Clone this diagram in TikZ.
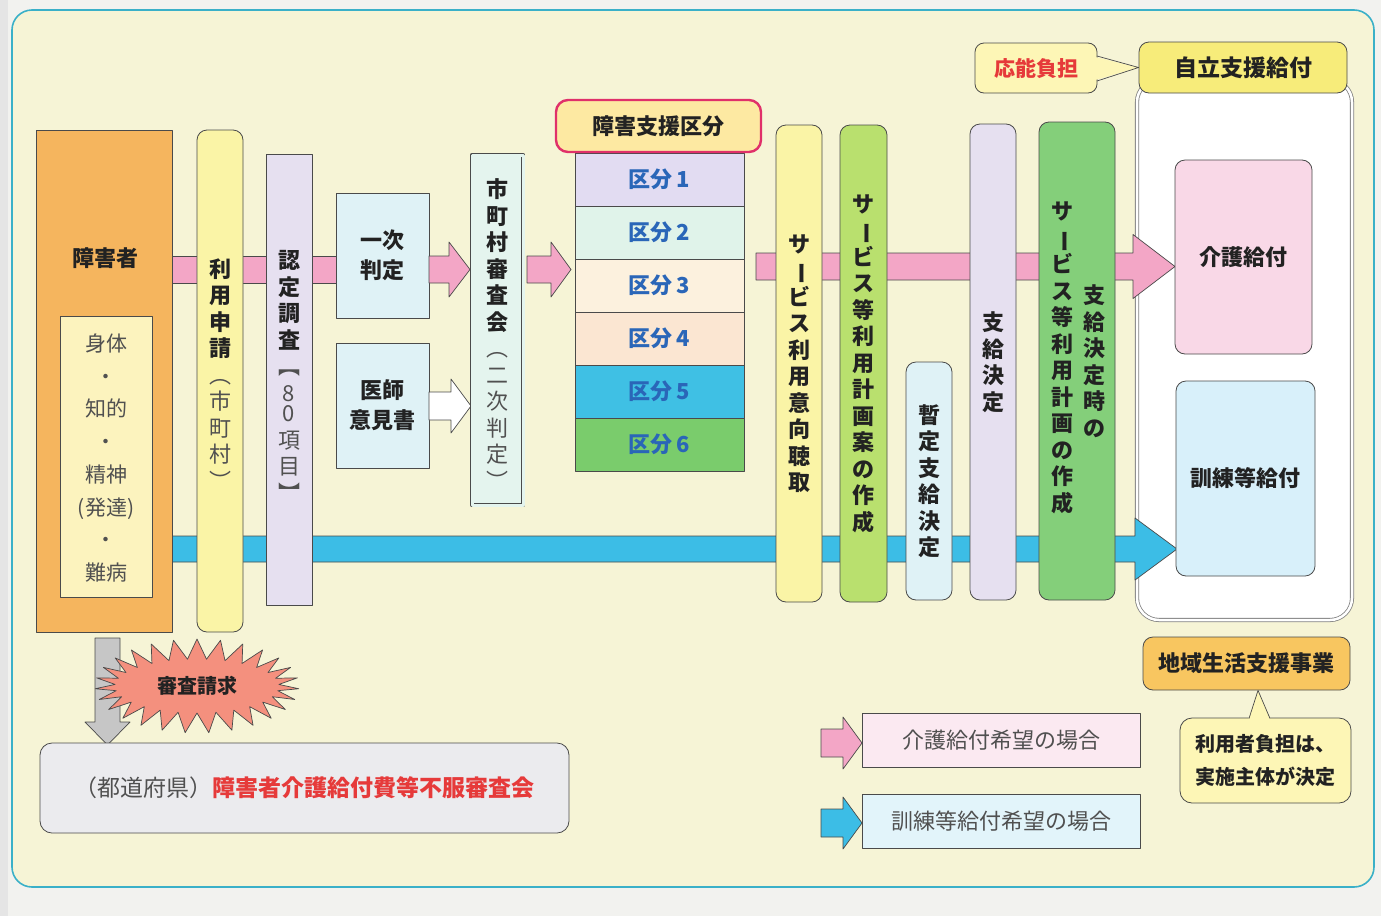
\documentclass[tikz,border=0pt]{standalone}
\usepackage{fontspec}
\setmainfont{Noto Sans CJK JP}
\usetikzlibrary{shapes.symbols}
\definecolor{pagebg}{HTML}{F2F2EF}
\definecolor{panel}{HTML}{F6F4D6}
\definecolor{panelB}{HTML}{3AB0C8}
\definecolor{lineC}{HTML}{4A4A4A}
\definecolor{orangeB}{HTML}{F5B55E}
\definecolor{creamB}{HTML}{FCF3BE}
\definecolor{yellowB}{HTML}{FAF4A6}
\definecolor{lavB}{HTML}{E6E0F0}
\definecolor{iceB}{HTML}{DFF2F6}
\definecolor{mintB}{HTML}{E4F4EE}
\definecolor{pinkA}{HTML}{F3A6C6}
\definecolor{cyanA}{HTML}{3CBDE6}
\definecolor{redB}{HTML}{E0306A}
\definecolor{hdrB}{HTML}{FDE9A2}
\definecolor{kA}{HTML}{E2DCF2}
\definecolor{kB}{HTML}{E0F3EA}
\definecolor{kC}{HTML}{FCF1DE}
\definecolor{kD}{HTML}{FBE6D2}
\definecolor{kE}{HTML}{3FC0E4}
\definecolor{kF}{HTML}{7ACC6C}
\definecolor{kT}{HTML}{2A66B8}
\definecolor{limeB}{HTML}{B9E06E}
\definecolor{greenB}{HTML}{84CF7A}
\definecolor{jhdr}{HTML}{F7EC7A}
\definecolor{kaigoB}{HTML}{F9D8E7}
\definecolor{kunrenB}{HTML}{D8F0FA}
\definecolor{chiikiB}{HTML}{F8C660}
\definecolor{calloutB}{HTML}{FDF6B6}
\definecolor{legP}{HTML}{FBE9F1}
\definecolor{legC}{HTML}{E2F4FA}
\definecolor{starB}{HTML}{F4907E}
\definecolor{grayA}{HTML}{C6C6C6}
\definecolor{fufukuB}{HTML}{EBEBEE}
\definecolor{redT}{HTML}{E63A3A}
\definecolor{txt}{HTML}{222222}
\definecolor{gtxt}{HTML}{505050}
\newcommand\vbar{\rotatebox[origin=c]{-90}{ー}}
\newcommand\gx[1]{{\mdseries\color{gtxt}#1}}
\newcommand\barrow[7]{\filldraw[arr, fill=#7] (#1,{#4-#5}) -- (#2,{#4-#5}) -- (#2,{#4-#6}) -- (#3,#4) -- (#2,{#4+#6}) -- (#2,{#4+#5}) -- (#1,{#4+#5}) -- cycle;}
\begin{document}
\begin{tikzpicture}[x=1pt,y=-1pt, line join=round,
 bx/.style={draw=lineC, line width=0.8pt, inner sep=0pt},
 vt/.style={align=center, inner sep=0pt, font=\fontsize{22}{26.5}\selectfont\bfseries, text=txt},
 lbl/.style={inner sep=0pt, align=center, font=\fontsize{22}{28}\selectfont\bfseries, text=txt},
 arr/.style={draw=lineC, line width=0.7pt}]
\useasboundingbox (0,0) rectangle (1381,916);
\fill[pagebg] (0,0) rectangle (1381,916);
\fill[white!90!black] (0,0) rectangle (8,916);
% panel
\filldraw[fill=panel, draw=panelB, line width=1.6pt, rounded corners=20pt] (12,10) rectangle (1374,887);

% jiritsu group
\node[bx, draw=gray, double=white, double distance=2.5pt, fill=white, rounded corners=22pt, minimum width=215pt, minimum height=540pt] (jiritsu) at (1244.5,350) {};
\node[bx, fill=jhdr, rounded corners=10pt, minimum width=208pt, minimum height=51pt, lbl, font=\fontsize{23}{28}\selectfont\bfseries] (jhead) at (1243,67.5) {自立支援給付};
\node[bx, fill=calloutB, rounded corners=9pt, minimum width=122pt, minimum height=50pt, lbl, font=\fontsize{21}{26}\selectfont\bfseries, text=redT] (onou) at (1036,68) {応能負担};
\fill[calloutB] (1095,57) -- (jhead.west) -- (1095,80) -- cycle;
\draw[arr] (1097,56) -- (jhead.west) -- (1097,81);

% main bars
\barrow{172}{1135}{1177}{549}{13}{31}{cyanA}
\filldraw[arr, fill=pinkA] (172,256) rectangle (336,283);
\barrow{756}{1133}{1175}{266.5}{13.5}{32}{pinkA}

% left column
\node[bx, fill=orangeB, minimum width=136pt, minimum height=502pt] (shogai) at (104,381) {};
\node[lbl] (shogaiT) at (105,258) {障害者};
\node[bx, fill=creamB, minimum width=92pt, minimum height=281pt] (types) at (106,456.5) {};
\node[align=center, inner sep=0pt, font=\fontsize{21}{32.7}\selectfont, text=gtxt] (typesT) at (106,458) {身体\\・\\知的\\・\\精神\\(発達)\\・\\難病};

\node[bx, fill=yellowB, rounded corners=10pt, minimum width=46pt, minimum height=502pt] (riyo) at (220,381) {};
\node[vt] (riyoT) at (220,374) {利\\用\\申\\請\\\gx{︵}\\\gx{市}\\\gx{町}\\\gx{村}\\\gx{︶}};

\node[bx, fill=lavB, minimum width=46pt, minimum height=451pt] (nintei) at (289,379.5) {};
\node[vt] (ninteiT) at (289,376) {認\\定\\調\\査\\\gx{︻}\\\gx{8}\\[-6pt]\gx{0}\\\gx{項}\\\gx{目}\\\gx{︼}};

\node[bx, fill=iceB, minimum width=93pt, minimum height=125pt, lbl, font=\fontsize{22}{30}\selectfont\bfseries] (ichiji) at (382.5,255.5) {一次\\判定};
\node[bx, fill=iceB, minimum width=93pt, minimum height=125pt, lbl, font=\fontsize{22}{30}\selectfont\bfseries] (ishi) at (382.5,405.5) {医師\\意見書};

\barrow{429}{449}{470}{269.5}{13.5}{27.5}{pinkA}
\barrow{429}{451}{471}{406}{14}{27}{white}

\node[bx, fill=mintB, double=mintB, double distance=3pt, minimum width=51pt, minimum height=350pt] (shinsa) at (497.5,330) {};
\node[vt] (shinsaT) at (497.5,334) {市\\町\\村\\審\\査\\会\\\gx{︵}\\\gx{二}\\\gx{次}\\\gx{判}\\\gx{定}\\\gx{︶}};

\barrow{527}{551}{571}{269.5}{13.5}{27.5}{pinkA}

% kubun stack
\foreach \c/\t/\y [count=\i] in {kA/1/179.5, kB/2/232.5, kC/3/285.5, kD/4/338.5, kE/5/391.5, kF/6/444.5}
  \node[bx, fill=\c, minimum width=169pt, minimum height=53pt, lbl, text=kT] (k\i) at (659.5,\y) {区分\hspace{4pt}\t};
\node[draw=redB, line width=2.4pt, fill=hdrB, rounded corners=12pt, minimum width=205pt, minimum height=52pt, lbl] (khead) at (658.5,126) {障害支援区分};

% service steps
\node[bx, fill=yellowB, rounded corners=10pt, minimum width=46pt, minimum height=477pt, vt] (sv1) at (799,363.5) {サ\\\vbar\\ビ\\ス\\利\\用\\意\\向\\聴\\取};
\node[bx, fill=limeB, rounded corners=10pt, minimum width=47pt, minimum height=477pt, vt] (sv2) at (863.5,363.5) {サ\\\vbar\\ビ\\ス\\等\\利\\用\\計\\画\\案\\の\\作\\成};
\node[bx, fill=iceB, rounded corners=10pt, minimum width=46pt, minimum height=238pt, vt] (zantei) at (929,481) {暫\\定\\支\\給\\決\\定};
\node[bx, fill=lavB, rounded corners=10pt, minimum width=46pt, minimum height=476pt, vt] (shikyu) at (993,362) {支\\給\\決\\定};
\node[bx, fill=greenB, rounded corners=10pt, minimum width=76pt, minimum height=478pt] (sv3) at (1077,361) {};
\node[vt] (sv3R) at (1094,361) {支\\給\\決\\定\\時\\の};
\node[vt] (sv3L) at (1062,358) {サ\\\vbar\\ビ\\ス\\等\\利\\用\\計\\画\\の\\作\\成};

% benefits
\node[bx, fill=kaigoB, rounded corners=10pt, minimum width=137pt, minimum height=194pt, lbl] (kaigo) at (1243.5,257) {介護給付};
\node[bx, fill=kunrenB, rounded corners=10pt, minimum width=139pt, minimum height=195pt, lbl] (kunren) at (1245.5,478.5) {訓練等給付};

% chiiki
\node[bx, fill=chiikiB, rounded corners=10pt, minimum width=207pt, minimum height=53pt, lbl] (chiiki) at (1246.5,663.5) {地域生活支援事業};
\node[bx, fill=calloutB, rounded corners=12pt, minimum width=171pt, minimum height=85pt, lbl, font=\fontsize{20}{33}\selectfont\bfseries] (futan) at (1265.5,760.5) {利用者負担は、\\実施主体が決定};
\fill[calloutB] (1248,720) -- (chiiki.south -| 1258,0) -- (1271,720) -- cycle;
\draw[arr] (1249,718.5) -- (chiiki.south -| 1258,0) -- (1270,718.5);

% legend
\barrow{821}{843}{862}{743}{14}{26}{pinkA}
\node[bx, fill=legP, minimum width=278pt, minimum height=54pt, font=\fontsize{22}{26}\selectfont, text=gtxt] (leg1) at (1001,740) {介護給付希望の場合};
\barrow{821}{843}{862}{823}{14}{26}{cyanA}
\node[bx, fill=legC, minimum width=278pt, minimum height=54pt, font=\fontsize{22}{26}\selectfont, text=gtxt] (leg2) at (1001,821) {訓練等給付希望の場合};

% appeal
\filldraw[arr, fill=grayA] (95,638) -- (120,638) -- (120,722) -- (130,722) -- (107.5,745) -- (85,722) -- (95,722) -- cycle;
\node[starburst, starburst points=27, starburst point height=20pt, random starburst=0, fill=starB, draw=lineC, line width=0.7pt, minimum width=204pt, minimum height=94pt, inner sep=0pt, font=\fontsize{20}{24}\selectfont\bfseries, text=txt] (seikyu) at (197,686) {審査請求};
\node[bx, fill=fufukuB, rounded corners=12pt, minimum width=529pt, minimum height=90pt, font=\fontsize{23}{28}\selectfont] (fufuku) at (304.5,788) {\color{gtxt}（都道府県）\color{redT}\bfseries 障害者介護給付費等不服審査会};
\end{tikzpicture}
\end{document}
